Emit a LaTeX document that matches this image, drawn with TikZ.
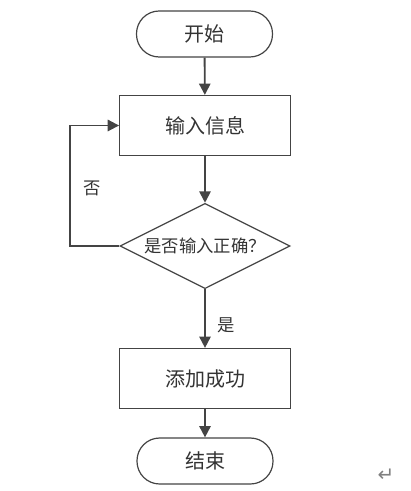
\documentclass[tikz,border=0pt]{standalone}
\usepackage{fontspec}
\newfontfamily\cjk{Noto Sans CJK SC}[Scale=1]
\newfontfamily\symf{DejaVu Sans}
\usetikzlibrary{arrows.meta,shapes.geometric}
\definecolor{ln}{HTML}{444444}
\definecolor{tx}{HTML}{333333}
\tikzset{
  every node/.style={font=\cjk\fontsize{15pt}{17pt}\selectfont, text=tx},
  term/.style={draw=ln, line width=0.9pt, rounded corners=17pt, minimum width=102pt, minimum height=34.5pt, inner sep=0pt},
  proc/.style={draw=ln, line width=0.9pt, minimum width=128pt, minimum height=45pt, inner sep=0pt},
  deci/.style={draw=ln, line width=0.9pt, diamond, aspect=2, minimum width=127.5pt, minimum height=64pt, inner sep=0pt},
  conn/.style={draw=ln, line width=1.4pt, -{Triangle[length=8.5pt,width=8.5pt]}},
  small/.style={font=\cjk\fontsize{13pt}{15pt}\selectfont},
}
\begin{document}
\begin{tikzpicture}[x=0.75pt,y=-0.75pt]
\useasboundingbox (0,0) rectangle (410,491);
\node[term] (start) at (204.5,34) {开始};
\node[proc] (input) at (205,125.5) {输入信息};
\node[deci] (check) at (205,246) {};
\node[small] (checktext) at (check.center) {是否输入正确？};
\node[proc] (ok) at (205,378.5) {添加成功};
\node[term] (end) at (205,461) {结束};
\coordinate (lb) at (70,246);
\coordinate (lt) at (70,125.5);
\draw[conn] (start) -- (input);
\draw[conn] (input) -- (check);
\draw[conn] (check) -- (ok);
\draw[conn] (ok) -- (end);
\draw[conn] (check.west) -- (lb) -- (lt) -- (input.west);
\node[small] (no) at (92,188) {否};
\node[small] (yes) at (226,325) {是};
\node[font=\symf\fontsize{15pt}{17pt}\selectfont, text=gray] (ret) at (386,475) {↵};
\end{tikzpicture}
\end{document}
